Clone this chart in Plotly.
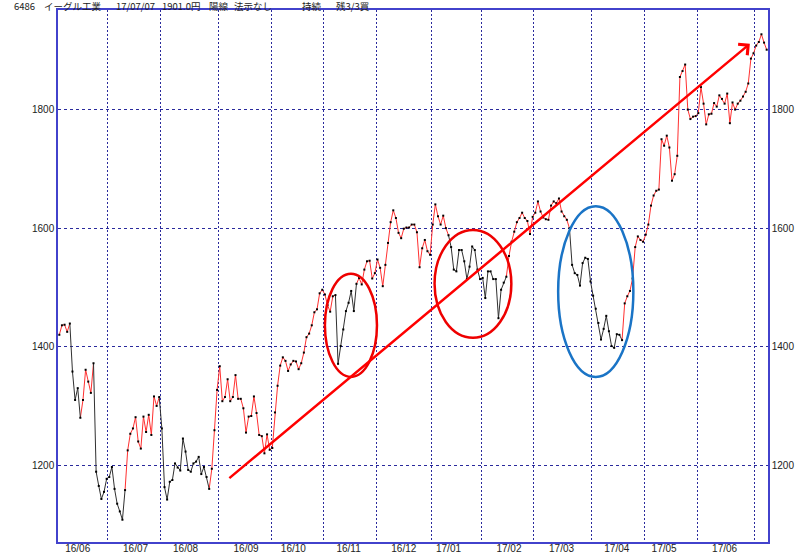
import pandas as pd
import plotly.graph_objects as go

# ---- daily closes, month by month ----
jun16 = [1420, 1436, 1437, 1425, 1439, 1358, 1310, 1330, 1280, 1310, 1361, 1341, 1322, 1372, 1189, 1165, 1143, 1155, 1177]
jul16 = [1180, 1197, 1160, 1135, 1122, 1108, 1158, 1225, 1253, 1262, 1281, 1240, 1228, 1282, 1256, 1285, 1251, 1316, 1300, 1315]
aug16 = [1262, 1163, 1142, 1172, 1175, 1203, 1196, 1191, 1245, 1223, 1192, 1189, 1203, 1206, 1214, 1185, 1197, 1180, 1160, 1194, 1259, 1327]
sep16 = [1367, 1308, 1315, 1345, 1308, 1315, 1352, 1312, 1312, 1296, 1255, 1282, 1283, 1316, 1288, 1251, 1249, 1220, 1252, 1226]
oct16 = [1229, 1289, 1334, 1368, 1382, 1376, 1359, 1370, 1376, 1375, 1362, 1372, 1390, 1416, 1422, 1436, 1458, 1463, 1490, 1496]
nov16 = [1488, 1470, 1459, 1485, 1487, 1371, 1401, 1429, 1460, 1474, 1494, 1460, 1506, 1516, 1505, 1530, 1544, 1545, 1515, 1524]
dec16 = [1547, 1533, 1502, 1538, 1575, 1610, 1630, 1617, 1592, 1583, 1599, 1601, 1601, 1606, 1606, 1593, 1534, 1566, 1580, 1561, 1555]
jan17 = [1606, 1640, 1620, 1606, 1621, 1600, 1588, 1568, 1530, 1527, 1563, 1563, 1544, 1514, 1535, 1569, 1563, 1530, 1514]
feb17 = [1516, 1482, 1527, 1527, 1514, 1514, 1448, 1496, 1508, 1518, 1553, 1577, 1594, 1610, 1617, 1626, 1617, 1612, 1590, 1619]
mar17 = [1626, 1645, 1628, 1618, 1615, 1614, 1638, 1645, 1642, 1650, 1628, 1620, 1614, 1600, 1538, 1524, 1521, 1503, 1541, 1550, 1548, 1510]
apr17 = [1486, 1464, 1440, 1412, 1430, 1452, 1426, 1401, 1398, 1421, 1420, 1411, 1473, 1485, 1494, 1515, 1568, 1586, 1580, 1577]
may17 = [1589, 1606, 1638, 1655, 1663, 1665, 1750, 1739, 1756, 1736, 1680, 1691, 1722, 1855, 1865, 1876, 1800, 1784, 1788, 1789]
jun17 = [1794, 1838, 1810, 1775, 1792, 1793, 1811, 1805, 1824, 1818, 1810, 1827, 1777, 1812, 1800, 1810, 1815, 1822, 1830, 1844, 1886, 1895]
jul17 = [1908, 1914, 1927, 1913, 1901]

closes = (jun16 + jul16 + aug16 + sep16 + oct16 + nov16 + dec16 + jan17 + feb17
          + mar17 + apr17 + may17 + jun17 + jul17)

# trend regime runs (red = up trend, black = down trend), in trading days
trend_runs = [("up", 5), ("down", 4), ("up", 5), ("down", 12), ("up", 13), ("down", 19),
              ("up", 48), ("down", 8), ("up", 35), ("down", 22), ("up", 24), ("down", 20),
              ("up", 55)]

month_labels = ["16/06", "16/07", "16/08", "16/09", "16/10", "16/11", "16/12",
                "17/01", "17/02", "17/03", "17/04", "17/05", "17/06"]
y_ticks = [1200, 1400, 1600, 1800]

holidays = ["2016-07-18", "2016-08-11", "2016-09-19", "2016-09-22", "2016-10-10",
            "2016-11-03", "2016-11-23", "2016-12-23", "2017-01-02", "2017-01-03",
            "2017-01-09", "2017-03-20", "2017-05-03", "2017-05-04", "2017-05-05"]
dates = pd.bdate_range("2016-06-06", "2017-07-07", freq="C", holidays=holidays)
N = len(closes)
dates = dates[:N]
xs = list(range(N))

# month boundaries (grid) and mid-month label positions
grid_pos = [i - 0.5 for i in range(1, N) if dates[i].month != dates[i - 1].month]
label_pos = []
for lab in month_labels:
    yy, mm = 2000 + int(lab[:2]), int(lab[3:])
    idx = [i for i, d in enumerate(dates) if d.year == yy and d.month == mm and d.day <= 15]
    label_pos.append(idx[-1])

flags = []
for kind, n in trend_runs:
    flags += [kind] * n


def segments(kind):
    X, Y = [], []
    i = 0
    while i < N:
        if flags[i] == kind:
            j = i
            while j + 1 < N and flags[j + 1] == kind:
                j += 1
            s = max(i - 1, 0)
            X += xs[s:j + 1] + [None]
            Y += closes[s:j + 1] + [None]
            i = j + 1
        else:
            i += 1
    return X, Y


fig = go.Figure()
rx, ry = segments("up")
bx, by = segments("down")
fig.add_trace(go.Scatter(x=rx, y=ry, mode="lines", line=dict(color="#ff3030", width=1),
                         hoverinfo="skip", showlegend=False))
fig.add_trace(go.Scatter(x=bx, y=by, mode="lines", line=dict(color="#303030", width=1),
                         hoverinfo="skip", showlegend=False))
fig.add_trace(go.Scatter(x=xs, y=closes, mode="markers",
                         marker=dict(color="black", size=2, symbol="square"),
                         showlegend=False))
fig.add_trace(go.Scatter(x=xs, y=closes, mode="lines", yaxis="y2", opacity=0,
                         line=dict(width=0), hoverinfo="skip", showlegend=False))

grid_col = "#2a2a9c"
frame_col = "#4242cc"
y_range = [1070.4, 1968]
tickfont = dict(family="Liberation Sans", size=10, color="#222222")

fig.update_layout(
    width=800, height=553,
    margin=dict(l=58, r=32, t=10, b=11, autoexpand=False),
    paper_bgcolor="white", plot_bgcolor="white",
    xaxis=dict(range=[-0.5, N - 0.5], tickmode="array", tickvals=label_pos,
               ticktext=month_labels, ticks="", showgrid=False, zeroline=False,
               showline=True, linecolor=frame_col, linewidth=1.5, mirror=True,
               tickfont=tickfont, automargin=False, ticklabelstandoff=-4,
               minor=dict(tickvals=grid_pos, showgrid=True, gridcolor=grid_col,
                          griddash="2px,2px", gridwidth=1, ticks="")),
    yaxis=dict(range=y_range, tickmode="array", tickvals=y_ticks, ticks="",
               showgrid=True, gridcolor=grid_col, griddash="3px,3px", gridwidth=1,
               zeroline=False, showline=True, linecolor=frame_col, linewidth=1.5,
               mirror=True, tickfont=tickfont, automargin=False),
    yaxis2=dict(range=y_range, overlaying="y", side="right", tickmode="array",
                tickvals=y_ticks, ticks="", showgrid=False, zeroline=False,
                showline=True, linecolor=frame_col, linewidth=1.5,
                tickfont=tickfont, automargin=False),
)

# hand-drawn marks (trend arrow and circles), in data coordinates
fig.add_annotation(x=262.6, y=1911, ax=64.1, ay=1176, xref="x", yref="y",
                   axref="x", ayref="y", text="", showarrow=True, arrowhead=4,
                   arrowsize=1.1, arrowwidth=2.5, arrowcolor="#ff0000", standoff=0)
fig.add_shape(type="circle", xref="x", yref="y", x0=101.0, x1=120.8, y0=1349, y1=1523,
              line=dict(color="#ee0000", width=2.5))
fig.add_shape(type="circle", xref="x", yref="y", x0=142.7, x1=171.9, y0=1415, y1=1597,
              line=dict(color="#ee0000", width=2.5))
fig.add_shape(type="circle", xref="x", yref="y", x0=189.7, x1=218.3, y0=1349, y1=1637,
              line=dict(color="#1a74c6", width=2.5))

# header text
title_parts = [("6486", 13), ("イーグル工業", 43), ("17/07/07", 115), ("1901.0円", 161),
               ("陽線", 208), ("法示なし", 233), ("持続", 301), ("残3/3買", 335)]
for txt, px in title_parts:
    fig.add_annotation(text=txt, xref="paper", yref="paper", x=(px - 58) / 710,
                       y=1 + 3.8 / 532, xanchor="left", yanchor="middle",
                       showarrow=False, borderpad=0,
                       font=dict(family="Noto Sans CJK JP", size=9.5, color="#222222"))

fig.write_html("out.html", config={"displayModeBar": False},
               post_script="document.body.style.margin='0';document.body.style.overflow='hidden';")
